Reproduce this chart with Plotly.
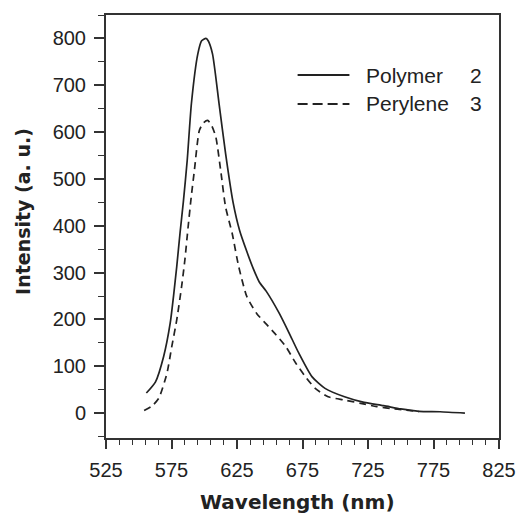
import plotly.graph_objects as go

# ---- data ----
polymer_wl = [555.8, 562.8, 569, 574, 576.5, 579, 581.5, 584, 587, 590.2, 595.1, 598, 601.3,
              603, 606.3, 611.3, 616.3, 622, 627, 632.5, 637.5, 642, 647.4, 657.3, 664.8,
              672.2, 682.2, 692.2, 707.1, 722, 737, 750, 764, 780, 799]
polymer_int = [43, 67, 121, 192, 249, 313, 384, 450, 540, 661, 767, 795, 800,
               795, 767, 661, 554, 450, 390, 345, 308, 280, 260, 213, 171,
               128, 78, 53, 35, 23, 16, 9, 4, 3, 0]

perylene_wl = [554.1, 560, 565.3, 571.5, 575.2, 579, 582.7, 585.2, 587.7, 590, 592.5, 596.3,
               599.5, 602.6, 605.5, 608.8, 612.5, 616.3, 621.3, 626.3, 632.5, 640, 647.4,
               654.9, 662.3, 669.8, 677.2, 684.7, 694.6, 707, 719.5, 731.7, 745, 764]
perylene_int = [5.5, 15, 32, 85, 142, 199, 270, 327, 398, 460, 519, 604,
                620, 625, 615, 590, 519, 440, 384, 313, 249, 213, 190,
                167, 142, 107, 78, 53, 35, 28, 21, 14, 9, 3.5]

series_names = ["Polymer", "Perylene"]
series_nums = ["2", "3"]
x_ticks = [525, 575, 625, 675, 725, 775, 825]
y_ticks = [0, 100, 200, 300, 400, 500, 600, 700, 800]

INK = "#222222"

fig = go.Figure()
fig.add_trace(go.Scatter(x=polymer_wl, y=polymer_int, mode="lines",
                         name="Polymer 2",
                         line=dict(color=INK, width=1.7, shape="spline", smoothing=0.6)))
fig.add_trace(go.Scatter(x=perylene_wl, y=perylene_int, mode="lines",
                         name="Perylene 3",
                         line=dict(color=INK, width=1.7, dash="7px,5px", shape="spline", smoothing=0.6)))

axis_common = dict(showline=True, linecolor="#333333", linewidth=2, mirror=True,
                   ticks="outside", tickcolor="#333333", tickwidth=1.5,
                   showgrid=False, zeroline=False,
                   tickfont=dict(family="Liberation Sans, Arial", size=20, color=INK))

fig.update_xaxes(range=[525, 825], tickvals=x_ticks, ticktext=[str(v) for v in x_ticks],
                 ticklen=9, ticklabelstandoff=4,
                 minor=dict(dtick=10, tick0=525, ticks="outside", ticklen=5,
                            tickcolor="#333333", tickwidth=1.2),
                 **axis_common)
fig.update_yaxes(range=[-53, 850], tickvals=y_ticks, ticktext=[str(v) for v in y_ticks],
                 ticklen=10, ticklabelstandoff=4,
                 minor=dict(dtick=50, tick0=0, ticks="outside", ticklen=6,
                            tickcolor="#333333", tickwidth=1.2),
                 **axis_common)

# plot area in px: x 106..508, y 15..438
L, R, T, B = 106, 508, 15, 438
W, H = R - L, B - T
px = lambda x: (x - L) / W
py = lambda y: (B - y) / H

annotations = [
    dict(text="Wavelength (nm)", x=px(302), y=py(502), xref="paper", yref="paper",
         showarrow=False, xanchor="center", yanchor="middle",
         font=dict(family="DejaVu Sans", size=20, color=INK, weight="bold")),
    dict(text="Intensity (a. u.)", x=px(21), y=py(211), xref="paper", yref="paper",
         showarrow=False, xanchor="center", yanchor="middle", textangle=-90,
         font=dict(family="DejaVu Sans", size=19, color=INK, weight="bold")),
]
shapes = []
leg_y = [75, 104]
dashes = ["solid", "10px,5px"]
for i in range(2):
    shapes.append(dict(type="line", xref="paper", yref="paper",
                       x0=px(302), x1=px(355), y0=py(leg_y[i]), y1=py(leg_y[i]),
                       line=dict(color=INK, width=1.8, dash=dashes[i])))
    annotations.append(dict(text=series_names[i], x=px(370), y=py(leg_y[i]),
                            xref="paper", yref="paper", showarrow=False,
                            xanchor="left", yanchor="middle",
                            font=dict(family="Liberation Sans, Arial", size=21, color=INK)))
    annotations.append(dict(text=series_nums[i], x=px(476), y=py(leg_y[i]),
                            xref="paper", yref="paper", showarrow=False,
                            xanchor="left", yanchor="middle",
                            font=dict(family="Liberation Sans, Arial", size=21, color=INK)))

fig.update_layout(width=528, height=517, autosize=False,
                  margin=dict(l=L, r=528 - R, t=T, b=517 - B, pad=0),
                  paper_bgcolor="white", plot_bgcolor="white",
                  showlegend=False, annotations=annotations, shapes=shapes)

fig.write_html("out.html", config={"displayModeBar": False},
               post_script="document.body.style.margin='0';document.body.style.padding='0';")
